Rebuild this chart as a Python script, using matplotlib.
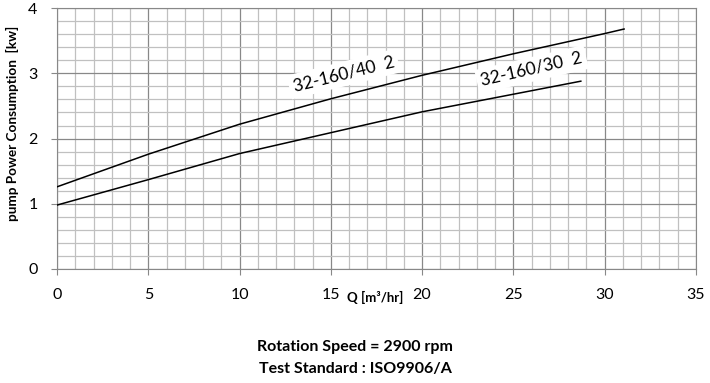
import numpy as np
import matplotlib.pyplot as plt
from matplotlib.ticker import MultipleLocator

# Courbes de puissance absorbée
q_40 = [0, 5, 10, 15, 20, 25, 30, 31.07]
p_40 = [1.26, 1.76, 2.22, 2.61, 2.97, 3.30, 3.61, 3.68]
q_30 = [0, 5, 10, 15, 20, 25, 28.7]
p_30 = [0.98, 1.37, 1.77, 2.09, 2.41, 2.68, 2.88]

plt.rcParams['font.family'] = ['Lato', 'DejaVu Sans']

fig = plt.figure(figsize=(7.1, 3.83), dpi=100)
ax = fig.add_axes([0.0803, 0.2977, 0.8997, 0.681])

ax.plot(q_40, p_40, color="black", lw=1.1, zorder=3)
ax.plot(q_30, p_30, color="black", lw=1.1, zorder=3)

ax.set_xlim(0, 35)
ax.set_ylim(0, 4)
ax.xaxis.set_major_locator(MultipleLocator(5))
ax.xaxis.set_minor_locator(MultipleLocator(1))
ax.yaxis.set_major_locator(MultipleLocator(1))
ax.yaxis.set_minor_locator(MultipleLocator(0.2))
ax.grid(which="major", color="#888888", lw=0.9)
ax.grid(which="minor", color="#c0c0c0", lw=0.9)
ax.set_axisbelow(True)
for s in ax.spines.values():
    s.set_color("#888888")
ax.tick_params(which="major", length=4, color="#888888", labelsize=11.5)
ax.tick_params(axis="x", which="major", pad=10)
ax.tick_params(axis="y", which="major", pad=10)
ax.tick_params(which="minor", length=0)

box = dict(facecolor="white", edgecolor="none", pad=3)
ax.text(15.7, 2.99, "32-160/40  2", rotation=14, ha="center", va="center",
        fontsize=12.5, bbox=box, zorder=4)
ax.text(26.0, 3.06, "32-160/30  2", rotation=13, ha="center", va="center",
        fontsize=12.5, bbox=box, zorder=4)

ax.set_ylabel("pump Power Consumption  [kw]", fontsize=9.8, fontweight="bold")
ax.yaxis.set_label_coords(-0.059, 0.56)
fig.text(0.5285, 0.224, "Q [m³/hr]", fontsize=9.5, fontweight="bold", ha="center", va="center")

fig.text(0.5, 0.094, "Rotation Speed = 2900 rpm", fontsize=11.5, fontweight="bold", ha="center", va="center")
fig.text(0.5, 0.036, "Test Standard : ISO9906/A", fontsize=11.5, fontweight="bold", ha="center", va="center")

plt.savefig("out.png", dpi=100)
